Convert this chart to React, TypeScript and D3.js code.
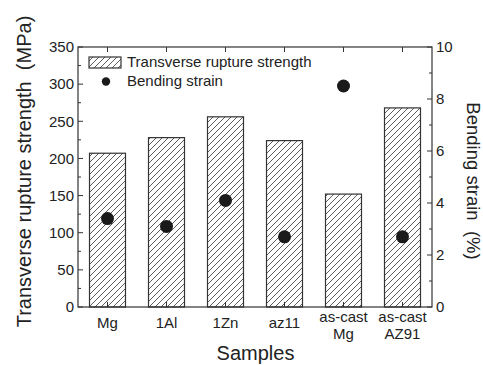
import React from "react";
import * as d3 from "d3";

const categories = ["Mg", "1Al", "1Zn", "az11", "as-cast Mg", "as-cast AZ91"];
const categoryLines = [["Mg"], ["1Al"], ["1Zn"], ["az11"], ["as-cast", "Mg"], ["as-cast", "AZ91"]];
const strength = [207, 228, 256, 224, 152, 268];
const bendingStrain = [3.4, 3.1, 4.1, 2.7, 8.5, 2.7];
const leftTicks = [0, 50, 100, 150, 200, 250, 300, 350];
const rightTicks = [0, 2, 4, 6, 8, 10];

const W = 483, H = 365;
const L = 78, R = 432, T = 47, B = 307;
const FONT = "Arial, 'Liberation Sans', Helvetica, sans-serif";
const AX = "#333";

export default function App() {
  const x = d3.scaleBand<string>().domain(categories).range([L, R]).paddingInner(0.39).paddingOuter(0.195);
  const yL = d3.scaleLinear().domain([0, 350]).range([B, T]);
  const yR = d3.scaleLinear().domain([0, 10]).range([B, T]);
  const cx = (c: string) => (x(c) as number) + x.bandwidth() / 2;
  const leftMinor = d3.range(25, 350, 50);
  const rightMinor = d3.range(1, 10, 2);

  return (
    <svg width={W} height={H} style={{ position: "absolute", left: 0, top: 0, background: "#fff" }} fontFamily={FONT}>
      <defs>
        <pattern id="hatch" patternUnits="userSpaceOnUse" width={6} height={6}>
          <path d="M0,6 L6,0 M-1,1 L1,-1 M5,7 L7,5" stroke="#333" strokeWidth={0.8} />
        </pattern>
      </defs>
      <rect x={0} y={0} width={W} height={H} fill="#fff" />
      {categories.map((c, i) => (
        <rect key={c} x={x(c)} y={yL(strength[i])} width={x.bandwidth()} height={B - yL(strength[i])}
          fill="url(#hatch)" stroke="#333" strokeWidth={1.2} />
      ))}
      {categories.map((c, i) => (
        <circle key={c} cx={cx(c)} cy={yR(bendingStrain[i])} r={6.5} fill="#1a1a1a" />
      ))}
      {/* frame */}
      <rect x={L} y={T} width={R - L} height={B - T} fill="none" stroke={AX} strokeWidth={1.2} />
      {/* left ticks */}
      {leftTicks.map((t) => (
        <g key={t}>
          <line x1={L} x2={L + 5} y1={yL(t)} y2={yL(t)} stroke={AX} />
          <text x={L - 4} y={yL(t)} dy="0.35em" textAnchor="end" fontSize={15} fill="#222">{t}</text>
        </g>
      ))}
      {leftMinor.map((t) => (
        <line key={t} x1={L} x2={L + 3} y1={yL(t)} y2={yL(t)} stroke={AX} />
      ))}
      {/* right ticks */}
      {rightTicks.map((t) => (
        <g key={t}>
          <line x1={R} x2={R - 5} y1={yR(t)} y2={yR(t)} stroke={AX} />
          <text x={R + 4} y={yR(t)} dy="0.35em" textAnchor="start" fontSize={15} fill="#222">{t}</text>
        </g>
      ))}
      {rightMinor.map((t) => (
        <line key={t} x1={R} x2={R - 3} y1={yR(t)} y2={yR(t)} stroke={AX} />
      ))}
      {/* x ticks */}
      {categories.map((c, i) => (
        <g key={c}>
          <line x1={cx(c)} x2={cx(c)} y1={B} y2={B - 5} stroke={AX} />
          <line x1={cx(c)} x2={cx(c)} y1={T} y2={T + 5} stroke={AX} />
          {categoryLines[i].length === 1 ? (
            <text x={cx(c)} y={328} textAnchor="middle" fontSize={15} fill="#222">{categoryLines[i][0]}</text>
          ) : (
            categoryLines[i].map((s, j) => (
              <text key={j} x={cx(c)} y={322 + j * 17} textAnchor="middle" fontSize={15} fill="#222">{s}</text>
            ))
          )}
        </g>
      ))}
      {/* axis titles */}
      <text x={W / 2 + 14} y={360} textAnchor="middle" fontSize={20} fill="#222">Samples</text>
      <text transform={`translate(31,${171.5}) rotate(-90)`} textAnchor="middle" fontSize={20} fill="#222" style={{ whiteSpace: "pre" }}>
        {"Transverse rupture strength  (MPa)"}
      </text>
      <text transform={`translate(467,${181}) rotate(90)`} textAnchor="middle" fontSize={18.5} fill="#222" style={{ whiteSpace: "pre" }}>
        {"Bending strain  (%)"}
      </text>
      {/* legend */}
      <rect x={89} y={57} width={32} height={11} fill="url(#hatch)" stroke="#333" strokeWidth={1.2} />
      <text x={127} y={67} fontSize={15} fill="#222">Transverse rupture strength</text>
      <circle cx={106} cy={81.5} r={4.2} fill="#1a1a1a" />
      <text x={127} y={86} fontSize={15} fill="#222">Bending strain</text>
    </svg>
  );
}
